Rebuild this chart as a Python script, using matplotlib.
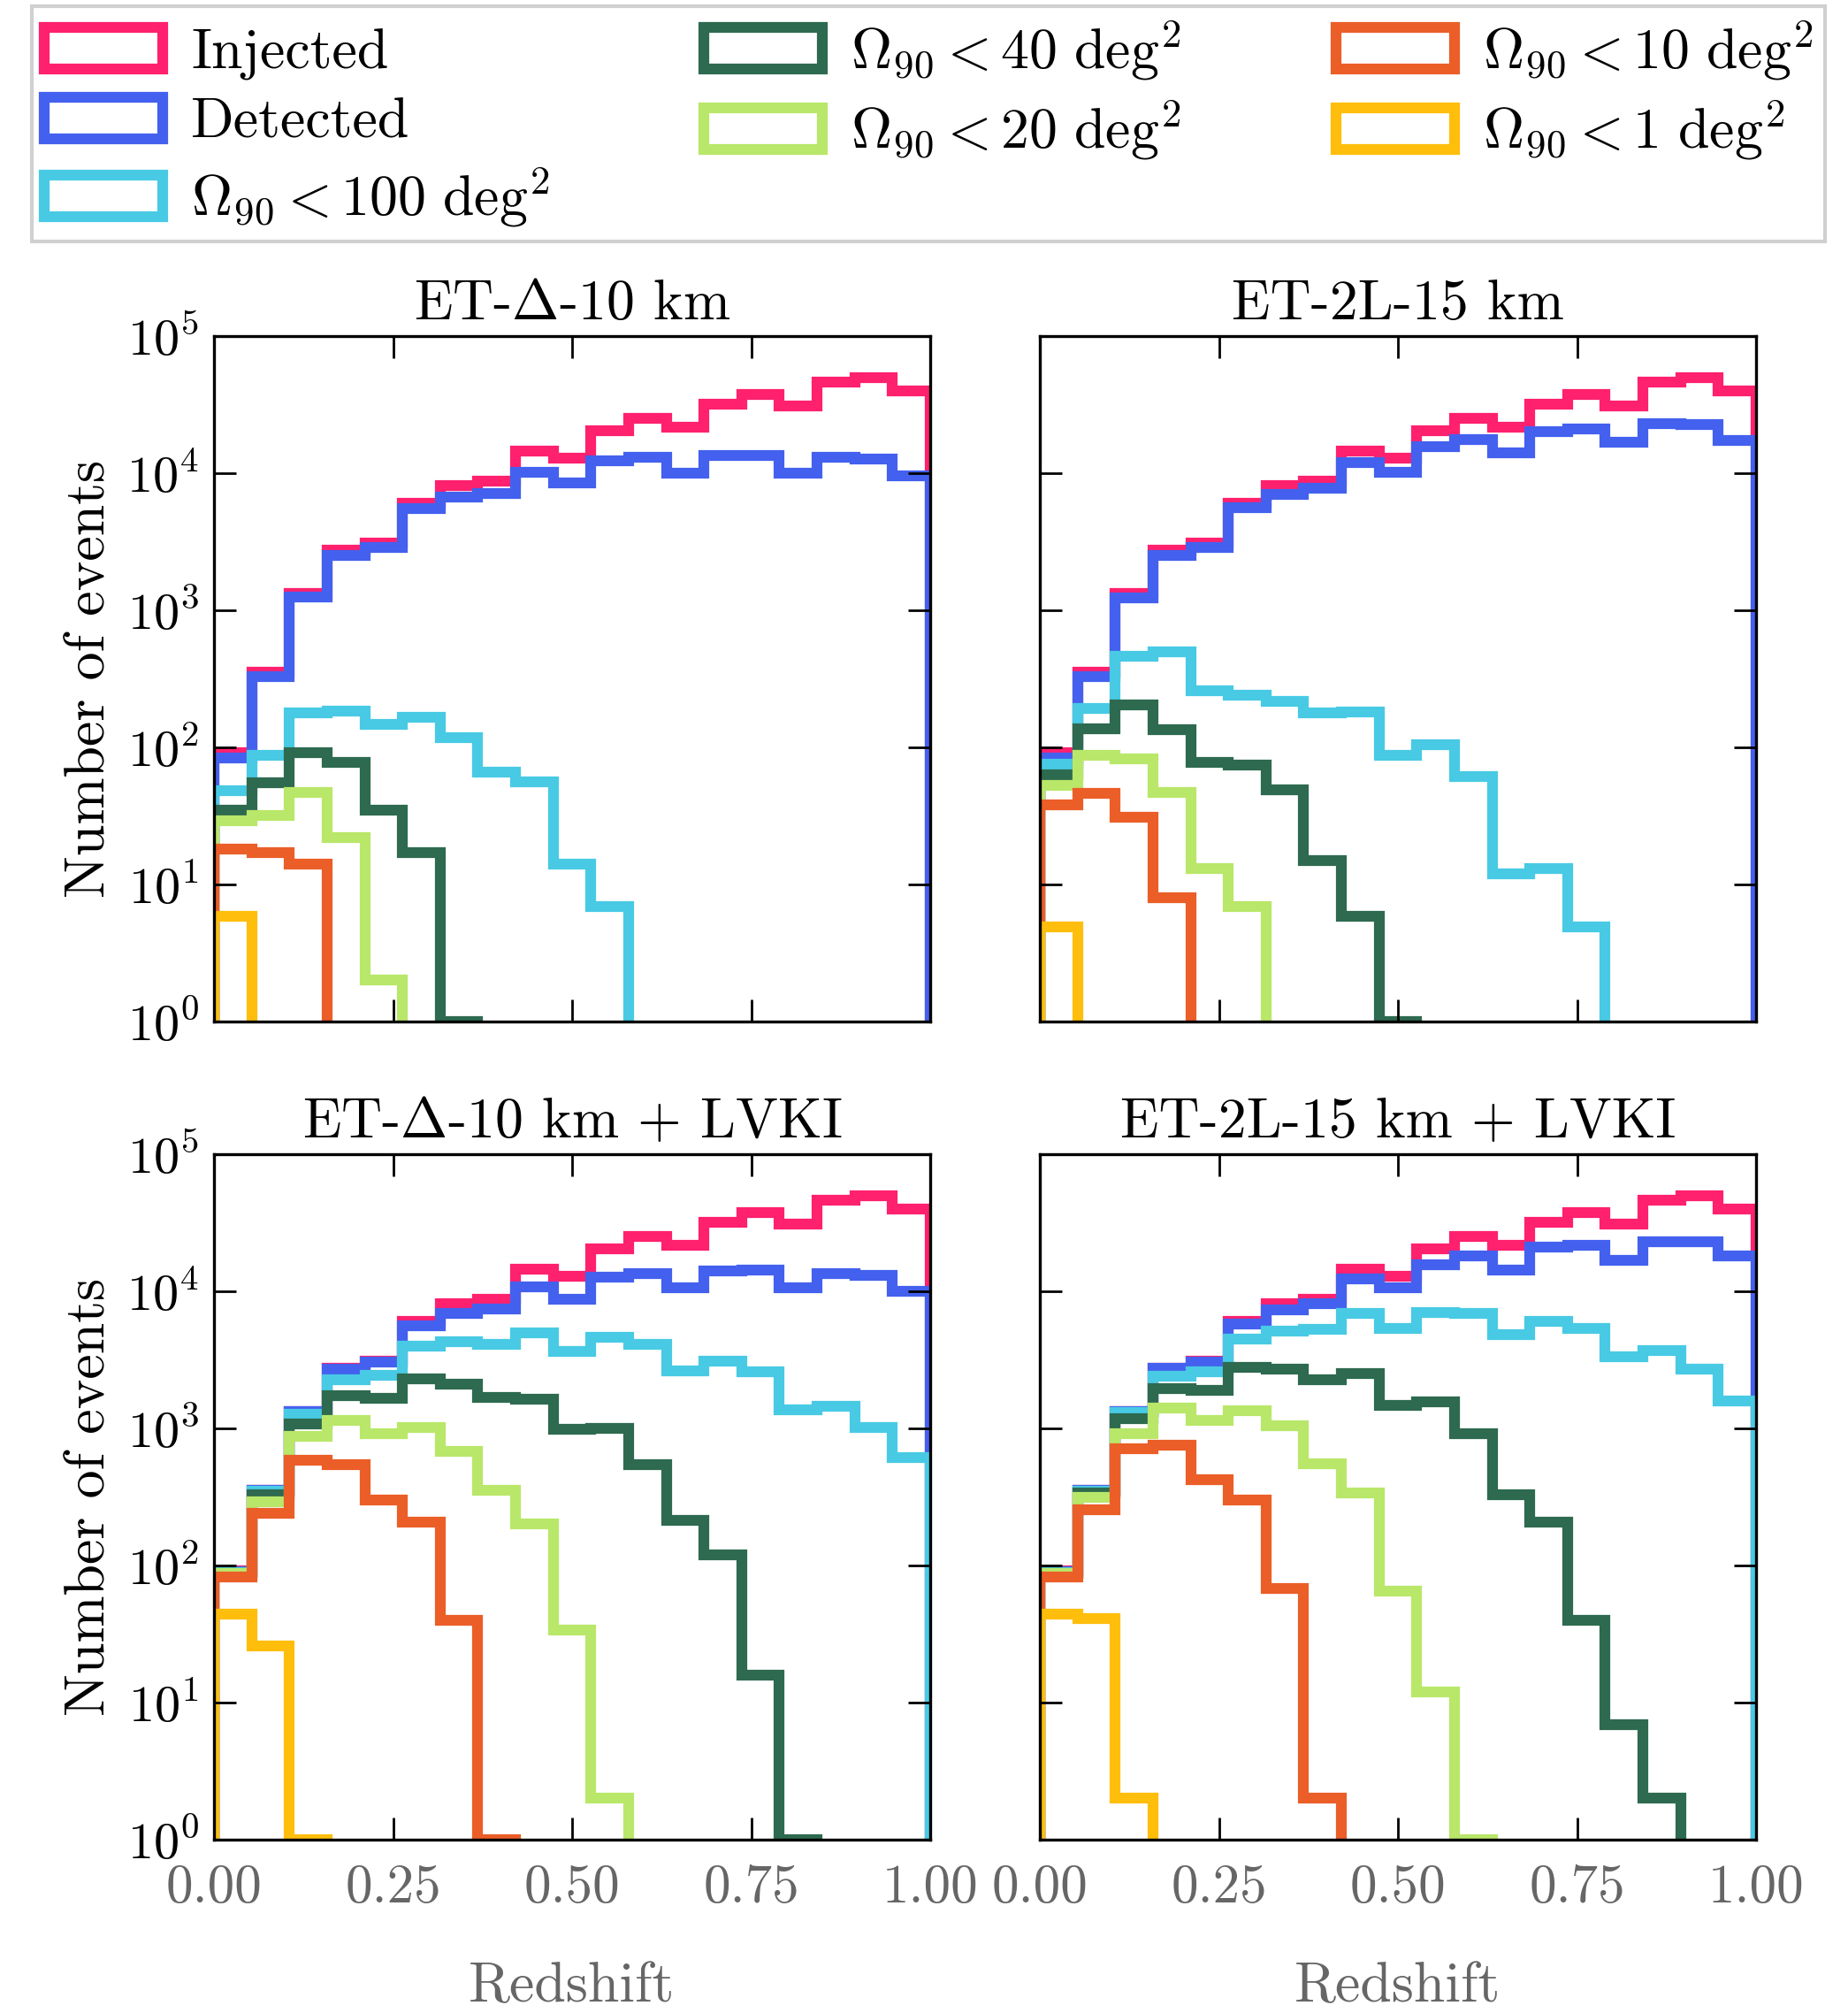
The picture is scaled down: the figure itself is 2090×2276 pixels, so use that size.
import numpy as np
import matplotlib
matplotlib.use("Agg")
import matplotlib.pyplot as plt
from matplotlib.patches import Patch
from matplotlib.ticker import LogLocator, NullLocator, FixedLocator

plt.rcParams['font.family'] = 'serif'
plt.rcParams['font.serif'] = ['cmr10', 'DejaVu Serif']
plt.rcParams['mathtext.fontset'] = 'cm'
plt.rcParams['axes.formatter.use_mathtext'] = True
plt.rcParams['axes.unicode_minus'] = False

# 19 bins in redshift
edges = np.linspace(0, 1, 20)

labels = ["Injected", "Detected",
          r"$\Omega_{90} < 100\ \mathrm{deg}^2$",
          r"$\Omega_{90} < 40\ \mathrm{deg}^2$",
          r"$\Omega_{90} < 20\ \mathrm{deg}^2$",
          r"$\Omega_{90} < 10\ \mathrm{deg}^2$",
          r"$\Omega_{90} < 1\ \mathrm{deg}^2$"]
colors = ["#ff206e", "#4361ee", "#48cae4", "#2d6a4f", "#b9e769", "#eb5e28", "#ffbe0b"]

titles = [r"ET-$\Delta$-10 km", "ET-2L-15 km",
          r"ET-$\Delta$-10 km + LVKI", "ET-2L-15 km + LVKI"]

injected = [92, 355, 1320, 2750, 3100, 6000, 8100, 8800, 14400, 12800,
            20500, 25300, 21500, 32000, 37400, 30700, 46500, 50000, 40000]

# ET-Delta-10 km
d_det = [84, 326, 1250, 2520, 2880, 5500, 6700, 7100, 10200, 8500,
         12300, 13100, 10000, 13400, 13500, 10000, 13100, 12600, 9500]
d_100 = [48, 87, 178, 185, 147, 165, 117, 66, 56, 14, 6.9, 0, 0, 0, 0, 0, 0, 0, 0]
d_40 = [35, 55, 92, 78, 35, 17, 1, 0, 0, 0, 0, 0, 0, 0, 0, 0, 0, 0, 0]
d_20 = [29, 32, 47, 22, 2, 0, 0, 0, 0, 0, 0, 0, 0, 0, 0, 0, 0, 0, 0]
d_10 = [18, 17, 14, 0, 0, 0, 0, 0, 0, 0, 0, 0, 0, 0, 0, 0, 0, 0, 0]
d_1 = [5.9, 0, 0, 0, 0, 0, 0, 0, 0, 0, 0, 0, 0, 0, 0, 0, 0, 0, 0]

# ET-2L-15 km
l_det = [84, 326, 1230, 2520, 2880, 5600, 7000, 7800, 12000, 10200,
         15500, 17700, 14000, 20000, 21000, 16700, 23000, 22600, 17400]
l_100 = [75, 192, 465, 495, 260, 240, 218, 178, 182, 88, 105, 61, 12, 13, 4.9, 0, 0, 0, 0]
l_40 = [63, 137, 203, 135, 78, 74, 49, 15, 5.9, 1, 0, 0, 0, 0, 0, 0, 0, 0, 0]
l_20 = [53, 87, 82, 47, 13, 6.9, 0, 0, 0, 0, 0, 0, 0, 0, 0, 0, 0, 0, 0]
l_10 = [38, 46, 31, 8, 0, 0, 0, 0, 0, 0, 0, 0, 0, 0, 0, 0, 0, 0, 0]
l_1 = [4.9, 0, 0, 0, 0, 0, 0, 0, 0, 0, 0, 0, 0, 0, 0, 0, 0, 0, 0]

# ET-Delta-10 km + LVKI
dv_det = [90, 353, 1320, 2700, 3050, 5600, 6900, 7400, 10700, 8800,
          12600, 13500, 10600, 14000, 14200, 10600, 13400, 13000, 10000]
dv_100 = [89, 350, 1270, 2280, 2430, 3970, 4270, 4120, 5000, 3640,
          4600, 4120, 2620, 3090, 2570, 1370, 1450, 1015, 610]
dv_40 = [88, 330, 1070, 1730, 1660, 2300, 2110, 1690, 1630, 980,
         1000, 540, 213, 119, 15.8, 1, 0, 0, 0]
dv_20 = [87, 290, 870, 1140, 910, 1020, 680, 353, 200, 34, 2, 0, 0, 0, 0, 0, 0, 0, 0]
dv_10 = [82, 241, 590, 540, 300, 208, 40, 1, 0, 0, 0, 0, 0, 0, 0, 0, 0, 0, 0]
dv_1 = [44, 26, 1, 0, 0, 0, 0, 0, 0, 0, 0, 0, 0, 0, 0, 0, 0, 0, 0]

# ET-2L-15 km + LVKI
lv_det = [90, 353, 1320, 2750, 3050, 5800, 7300, 8100, 12300, 10600,
          15500, 18000, 14300, 21000, 21800, 16700, 23000, 23000, 18000]
lv_100 = [89, 350, 1300, 2390, 2570, 4500, 5100, 5250, 6900, 5370,
          7000, 6850, 4800, 6000, 5370, 3330, 3670, 2690, 1590]
lv_40 = [88, 340, 1170, 1940, 1900, 2800, 2700, 2280, 2520, 1480,
         1570, 910, 330, 208, 40, 6.9, 2, 0, 0]
lv_20 = [87, 315, 910, 1400, 1140, 1350, 1040, 550, 340, 65, 12, 1, 0, 0, 0, 0, 0, 0, 0]
lv_10 = [82, 255, 710, 750, 425, 300, 68, 2, 0, 0, 0, 0, 0, 0, 0, 0, 0, 0, 0]
lv_1 = [44, 41, 2, 0, 0, 0, 0, 0, 0, 0, 0, 0, 0, 0, 0, 0, 0, 0, 0]

panels = [
    [injected, d_det, d_100, d_40, d_20, d_10, d_1],
    [injected, l_det, l_100, l_40, l_20, l_10, l_1],
    [injected, dv_det, dv_100, dv_40, dv_20, dv_10, dv_1],
    [injected, lv_det, lv_100, lv_40, lv_20, lv_10, lv_1],
]

W, H = 2090, 2276
fig = plt.figure(figsize=(W / 200, H / 200), dpi=200)

xs = [(242, 1052), (1176, 1986)]
ys = [(380, 1155), (1305, 2080)]
gray = "#666666"
LW = 4.4

for k in range(4):
    row, col = divmod(k, 2)
    x0, x1 = xs[col]
    y0, y1 = ys[row]
    ax = fig.add_axes([x0 / W, 1 - y1 / H, (x1 - x0) / W, (y1 - y0) / H])
    ax.set_yscale('log')
    for vals, c, lab in zip(panels[k], colors, labels):
        ax.stairs(vals, edges, color=c, lw=LW, label=lab, baseline=0)
    ax.set_xlim(0, 1)
    ax.set_ylim(1, 1e5)
    ax.set_title(titles[k], fontsize=23, pad=7)
    ax.yaxis.set_major_locator(LogLocator(base=10, numticks=10))
    ax.yaxis.set_minor_locator(NullLocator())
    ax.xaxis.set_major_locator(FixedLocator([0, 0.25, 0.5, 0.75, 1.0]))
    ax.tick_params(direction='in', top=True, right=True, length=9, width=1.0)
    ax.tick_params(axis='x', labelcolor=gray, labelsize=22, pad=10)
    ax.tick_params(axis='y', labelsize=21, pad=6)
    for s in ax.spines.values():
        s.set_linewidth(1.2)
    if col == 0:
        ax.set_ylabel("Number of events", fontsize=23, labelpad=4)
    else:
        ax.tick_params(labelleft=False)
    if row == 1:
        ax.xaxis.set_major_formatter(plt.FormatStrFormatter('%.2f'))
        ax.set_xlabel("Redshift", fontsize=23, color=gray, labelpad=20)
    else:
        ax.tick_params(labelbottom=False)

handles = [Patch(facecolor='none', edgecolor=c, linewidth=LW) for c in colors]
leg = fig.legend(handles, labels, loc='upper left',
                 bbox_to_anchor=(36 / W, 1 - 7 / H, 2028 / W, 0.0),
                 mode='expand', ncol=3, fancybox=False, framealpha=1,
                 edgecolor='#d0d0d0', fontsize=23, handlelength=2.1,
                 handleheight=0.75, labelspacing=0.3, borderaxespad=0,
                 borderpad=0.22, handletextpad=0.5)
leg.get_frame().set_linewidth(1.5)

fig.savefig("out.png", dpi=200)
